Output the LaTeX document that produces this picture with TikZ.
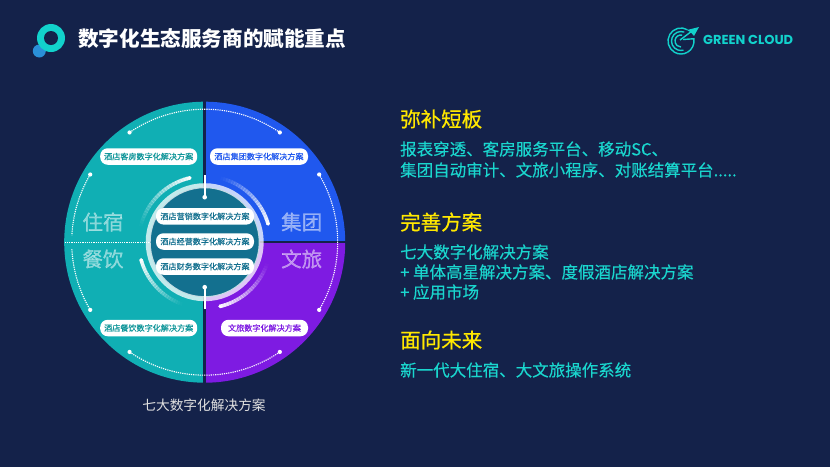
\documentclass[tikz,border=0pt]{standalone}
\usepackage{fontspec}
\setmainfont{Noto Sans CJK SC}
\newfontfamily\medfont{Noto Sans CJK SC}[FakeBold=0.25]
\newfontfamily\headfont{Noto Sans CJK SC}[FakeBold=0.7]
\newfontfamily\logofont{Poppins}
\definecolor{bgc}{HTML}{14224A}
\definecolor{tealc}{HTML}{10AFB4}
\definecolor{bluec}{HTML}{2058EE}
\definecolor{purplec}{HTML}{7E1BE2}
\definecolor{corec}{HTML}{13708F}
\definecolor{yellowc}{HTML}{FFE800}
\definecolor{cyanc}{HTML}{1AD6CE}
\definecolor{logoc}{HTML}{12D2CC}
\newcommand{\fadearc}[3]{% from transparent (#1) to opaque (#2), radius #3
  \foreach \i in {1,...,24}{
    \pgfmathsetmacro{\aa}{#1+(#2-#1)*(\i-1)/24}
    \pgfmathsetmacro{\ab}{#1+(#2-#1)*(\i+0.15)/24}
    \pgfmathsetmacro{\op}{pow(\i/24,1.2)*0.95}
    \draw[white,line width=3.6pt,opacity=\op] (\aa:#3) arc[start angle=\aa,end angle=\ab,radius=#3];
  }
}
\tikzset{
  heading/.style={anchor=west,text=yellowc,font=\fontsize{20.5}{24}\selectfont\headfont,inner sep=0pt},
  bodytext/.style={anchor=west,text=cyanc,font=\fontsize{16.5}{20}\selectfont\medfont,inner sep=0pt},
  pill/.style={fill=white,rounded corners=7.5pt,minimum height=16.5pt,inner sep=0pt,font=\fontsize{8.1}{10}\selectfont\medfont},
  bigtext/.style={text=white,text opacity=0.5,font=\fontsize{20.5}{24}\selectfont\headfont,inner sep=0pt},
  dotline/.style={white,line width=1.1pt,dash pattern=on 1.2pt off 1pt},
  enddot/.style={fill=white,draw=none},
}
\begin{document}
\begin{tikzpicture}[x=1pt,y=-1pt]
\useasboundingbox (0,0) rectangle (830,467);
\fill[bgc] (0,0) rectangle (830,467);
% header logo
\fill[color={rgb,255:red,42;green,144;blue,216}] (39.3,51) circle (6.5pt);
\fill[logoc] (51,38) circle (14pt);
\fill[bgc] (51,38) circle (7pt);
\node[anchor=west,text=white,inner sep=0pt,font=\fontsize{20.6}{24}\selectfont\bfseries] (title) at (78,39) {数字化生态服务商的赋能重点};
% green cloud logo
\begin{scope}[shift={(681,41)},y=1pt,logoc,line cap=butt]
  \draw[line width=1.4pt] (60:13) arc[start angle=60,end angle=300,radius=13];
  \draw[line width=1.4pt] (70:9.5) arc[start angle=70,end angle=285,radius=9.5];
  \draw[line width=1.4pt] (80:6) arc[start angle=80,end angle=270,radius=6];
  \draw[line width=1.4pt] (-60:13) arc[start angle=-60,end angle=10,radius=13] -- (2,1.5);
  \draw[line width=1.4pt] (-1,1) -- (11,10);
  \fill (18,14) -- (6,11) -- (10,8.5) -- (13,5) -- cycle;
\end{scope}
\node[anchor=west,text=logoc,inner sep=0pt,font=\logofont\fontsize{13}{15}\selectfont\bfseries] (brand) at (703,40) {GREEN CLOUD};
% disk
\begin{scope}[shift={(204.7,242.2)},y=1pt]
  \fill[tealc] (0,-140.5) arc[start angle=-90,end angle=-270,radius=140.5pt] -- cycle;
  \fill[bluec] (0,0) -- (140.5,0) arc[start angle=0,end angle=90,radius=140.5pt] -- cycle;
  \fill[purplec] (0,0) -- (140.5,0) arc[start angle=0,end angle=-90,radius=140.5pt] -- cycle;
  \draw[bgc,line width=3.2pt] (0,141) -- (0,-141);
  \draw[bgc,line width=2pt] (0,0) -- (141,0);
  % dotted outer arcs
  \draw[dotline] (55.6:133) arc[start angle=55.6,end angle=124.4,radius=133pt];
  \draw[dotline] (-55.6:133) arc[start angle=-55.6,end angle=-124.4,radius=133pt];
  \draw[dotline] (30.6:133) arc[start angle=30.6,end angle=-30.6,radius=133pt];
  \draw[dotline] (149.4:133) arc[start angle=149.4,end angle=177,radius=133pt];
  \draw[dotline] (183:133) arc[start angle=183,end angle=210.6,radius=133pt];
  \draw[dotline] (-140,0) -- (-50,0);
  \foreach \a in {55.6,124.4,-55.6,-124.4,30.6,-30.6,149.4,210.6}
    \fill[enddot] (\a:133) circle (2.1pt);
  % core
  \fill[corec] (0,0) circle (55pt);
  \draw[white,opacity=0.75,line width=5pt] (0,0) circle (56.5pt);
  % fading arcs
  \fadearc{76}{16}{66}
  \fadearc{166}{103}{66}
  \fadearc{250}{195.5}{66}
  \fadearc{341}{283.4}{66}
  \fill[white] (16:66) circle (1.8pt) (103:66) circle (1.8pt) (195.5:66) circle (1.8pt) (283.4:66) circle (1.8pt);
  % ticks
  \draw[white,line width=2pt] (0,67) -- (0,45);
  \fill[enddot] (0,45) circle (2.3pt);
  \draw[white,line width=2pt] (0,-67) -- (0,-45);
  \fill[enddot] (0,-45) circle (2.3pt);
\end{scope}
% quadrant words
\node[bigtext] (zhusu) at (103,222) {住宿};
\node[bigtext] (canyin) at (103,259) {餐饮};
\node[bigtext] (jituan) at (301.7,222) {集团};
\node[bigtext] (wenlv) at (301.7,259) {文旅};
% pills
\node[pill,minimum width=97pt,text=tealc!85!black] (p1) at (148.7,156.5) {酒店客房数字化解决方案};
\node[pill,minimum width=98pt,text=bluec] (p2) at (259,156.5) {酒店集团数字化解决方案};
\node[pill,minimum width=97pt,text=tealc!85!black] (p3) at (148.7,328) {酒店餐饮数字化解决方案};
\node[pill,minimum width=87pt,text=purplec] (p4) at (264.5,328) {文旅数字化解决方案};
\node[pill,minimum width=98pt,text=corec] (c1) at (205,216.3) {酒店营销数字化解决方案};
\node[pill,minimum width=98pt,text=corec] (c2) at (205,241.5) {酒店经营数字化解决方案};
\node[pill,minimum width=98pt,text=corec] (c3) at (205,266.5) {酒店财务数字化解决方案};
% caption
\node[text=white!88!black,inner sep=0pt,font=\fontsize{13.7}{16}\selectfont] (cap) at (204,405) {七大数字化解决方案};
% right column
\node[heading] (h1) at (400,119) {弥补短板};
\node[bodytext] (b1) at (400,149) {报表穿透、客房服务平台、移动SC、};
\node[bodytext] (b2) at (400,170) {集团自动审计、文旅小程序、对账结算平台.....};
\node[heading] (h2) at (400,222) {完善方案};
\node[bodytext] (b3) at (400,252) {七大数字化解决方案};
\node[bodytext] (b4) at (400,272) {+ 单体高星解决方案、度假酒店解决方案};
\node[bodytext] (b5) at (400,292) {+ 应用市场};
\node[heading] (h3) at (400,340) {面向未来};
\node[bodytext] (b6) at (400,370) {新一代大住宿、大文旅操作系统};
\end{tikzpicture}
\end{document}
